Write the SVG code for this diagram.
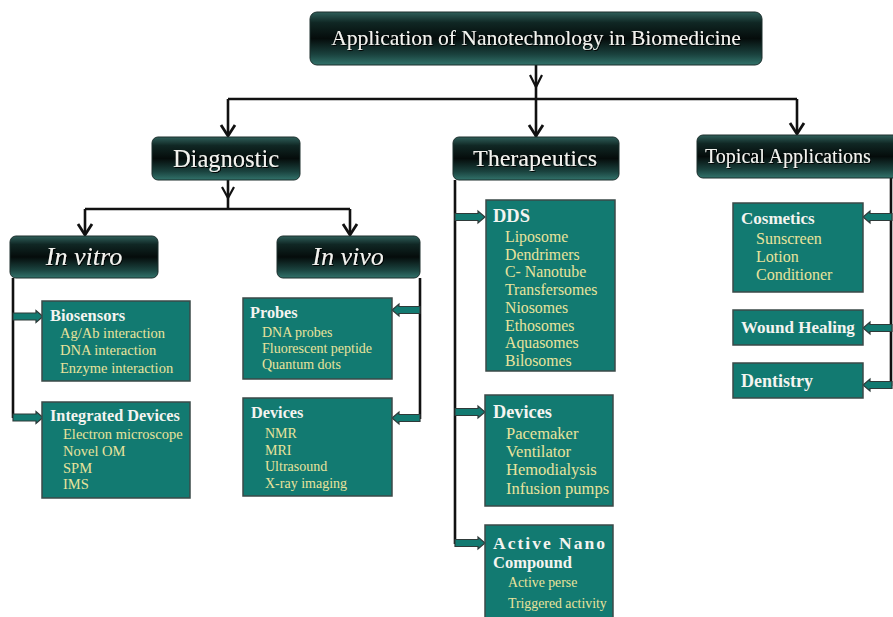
<svg xmlns="http://www.w3.org/2000/svg" width="893" height="617" viewBox="0 0 893 617">
  <defs>
    <linearGradient id="hdrGrad" x1="0" y1="0" x2="0" y2="1">
      <stop offset="0" stop-color="#2f5f5a"/>
      <stop offset="0.2" stop-color="#102724"/>
      <stop offset="0.5" stop-color="#050c0b"/>
      <stop offset="0.8" stop-color="#1a423e"/>
      <stop offset="1" stop-color="#32736b"/>
    </linearGradient>
    <filter id="txtShadow" x="-5%" y="-20%" width="110%" height="140%">
      <feDropShadow dx="1" dy="1" stdDeviation="0.6" flood-color="#000" flood-opacity="0.9"/>
    </filter>
  </defs>
  <style>
    .hdr { fill: url(#hdrGrad); stroke: #1c2f2d; stroke-width: 1; }
    .hdrText { fill: #f2f2ee; font-family: "Liberation Serif", "Times New Roman", serif; text-anchor: middle; filter: url(#txtShadow); }
    .box { fill: #127a71; stroke: #3b4a48; stroke-width: 1.5; }
    .title { fill: #f4f4f0; font-family: "Liberation Serif", "Times New Roman", serif; font-weight: bold; }
    .item { fill: #e9e39c; font-family: "Liberation Serif", "Times New Roman", serif; }
    .line { fill: none; stroke: #111; stroke-width: 2.6; stroke-linejoin: miter; }
    .chev { fill: none; stroke: #111; stroke-width: 2.2; stroke-linejoin: miter; }
    .tip { fill: none; stroke: #111; stroke-width: 2.8; }
    .barrow { fill: #127a71; stroke: #2e3a39; stroke-width: 1.2; stroke-linejoin: miter; }
  </style>

  <rect width="893" height="617" fill="#ffffff"/>

  <!-- connectors -->
  <g id="connectors">
    <!-- root to level 1 -->
    <path class="line" d="M536 65 V137"/>
    <path class="chev" d="M530 75 L536 87 L542 75"/>
    <path class="line" d="M228 99 H797"/>
    <path class="line" d="M228 99 V135"/>
    <path class="tip" d="M221 125 L228 136 L235 125"/>
    <path class="tip" d="M529 125 L536 136 L543 125"/>
    <path class="line" d="M797 99 V133"/>
    <path class="tip" d="M790 123 L797 134 L804 123"/>

    <!-- Diagnostic to In vitro / In vivo -->
    <path class="line" d="M228 180 V209"/>
    <path class="chev" d="M222 187 L228 198 L234 187"/>
    <path class="line" d="M85 209 H350"/>
    <path class="line" d="M85 209 V234"/>
    <path class="tip" d="M78 224 L85 235 L92 224"/>
    <path class="line" d="M350 209 V234"/>
    <path class="tip" d="M343 224 L350 235 L357 224"/>

    <!-- In vitro branch -->
    <path class="line" d="M13 278 V418"/>
    <path class="barrow" d="M13 313 H36 V310.5 L43 316.5 L36 322.5 V320 H13 Z"/>
    <path class="barrow" d="M13 414 H36 V411.5 L43 417.5 L36 423.5 V421 H13 Z"/>

    <!-- In vivo branch -->
    <path class="line" d="M420 278 V419"/>
    <path class="barrow" d="M420 306.5 H399 V304 L392 310 L399 316 V313.5 H420 Z"/>
    <path class="barrow" d="M420 414.5 H399 V412 L392 418 L399 424 V421.5 H420 Z"/>

    <!-- Therapeutics branch -->
    <path class="line" d="M455 180 V544"/>
    <path class="barrow" d="M455 213.5 H478 V211 L485 217 L478 223 V220.5 H455 Z"/>
    <path class="barrow" d="M455 408.5 H478 V406 L485 412 L478 418 V415.5 H455 Z"/>
    <path class="barrow" d="M455 539.5 H478 V537 L485 543 L478 549 V546.5 H455 Z"/>

    <!-- Topical branch -->
    <path class="line" d="M891 178 V386"/>
    <path class="barrow" d="M892 213.5 H870 V211 L863 217 L870 223 V220.5 H892 Z"/>
    <path class="barrow" d="M892 324.5 H870 V322 L863 328 L870 334 V331.5 H892 Z"/>
    <path class="barrow" d="M892 381.5 H870 V379 L863 385 L870 391 V388.5 H892 Z"/>
  </g>

  <!-- header nodes -->
  <g id="root">
    <rect class="hdr" x="310" y="12" width="452" height="53" rx="7"/>
    <text class="hdrText" x="536" y="45" font-size="21.5">Application of Nanotechnology in Biomedicine</text>
  </g>
  <g id="diagnostic">
    <rect class="hdr" x="152" y="137" width="148" height="43" rx="6"/>
    <text class="hdrText" x="226" y="167" font-size="24.5">Diagnostic</text>
  </g>
  <g id="therapeutics">
    <rect class="hdr" x="453" y="137" width="166" height="43" rx="6"/>
    <text class="hdrText" x="535" y="166" font-size="24">Therapeutics</text>
  </g>
  <g id="topical">
    <rect class="hdr" x="697" y="135" width="206" height="43" rx="6"/>
    <text class="hdrText" x="705" y="163" font-size="20" style="text-anchor:start">Topical Applications</text>
  </g>
  <g id="in-vitro">
    <rect class="hdr" x="10" y="236" width="148" height="42" rx="6"/>
    <text class="hdrText" x="84" y="265" font-size="26" font-style="italic">In vitro</text>
  </g>
  <g id="in-vivo">
    <rect class="hdr" x="277" y="236" width="143" height="42" rx="6"/>
    <text class="hdrText" x="348" y="265" font-size="26" font-style="italic">In vivo</text>
  </g>

  <!-- In vitro leaves -->
  <g id="biosensors">
    <rect class="box" x="42" y="301" width="148" height="80"/>
    <text class="title" x="50" y="321" font-size="16.5">Biosensors</text>
    <text class="item" font-size="14.5">
      <tspan x="60" y="338">Ag/Ab interaction</tspan>
      <tspan x="60" y="355">DNA interaction</tspan>
      <tspan x="60" y="373">Enzyme interaction</tspan>
    </text>
  </g>
  <g id="integrated-devices">
    <rect class="box" x="42" y="402" width="148" height="96"/>
    <text class="title" x="50" y="421" font-size="16.3">Integrated Devices</text>
    <text class="item" font-size="14.5">
      <tspan x="63" y="439">Electron microscope</tspan>
      <tspan x="63" y="456">Novel OM</tspan>
      <tspan x="63" y="473">SPM</tspan>
      <tspan x="63" y="489">IMS</tspan>
    </text>
  </g>

  <!-- In vivo leaves -->
  <g id="probes">
    <rect class="box" x="243" y="298" width="149" height="81"/>
    <text class="title" x="250" y="318" font-size="16.3">Probes</text>
    <text class="item" font-size="14">
      <tspan x="262" y="337">DNA probes</tspan>
      <tspan x="262" y="353">Fluorescent peptide</tspan>
      <tspan x="262" y="369">Quantum dots</tspan>
    </text>
  </g>
  <g id="vivo-devices">
    <rect class="box" x="243" y="398" width="149" height="98"/>
    <text class="title" x="251" y="418" font-size="16.3">Devices</text>
    <text class="item" font-size="14">
      <tspan x="265" y="438">NMR</tspan>
      <tspan x="265" y="455">MRI</tspan>
      <tspan x="265" y="471">Ultrasound</tspan>
      <tspan x="265" y="488">X-ray imaging</tspan>
    </text>
  </g>

  <!-- Therapeutics leaves -->
  <g id="dds">
    <rect class="box" x="486" y="200" width="129" height="171"/>
    <text class="title" x="493" y="222" font-size="18.5">DDS</text>
    <text class="item" font-size="15.8">
      <tspan x="505" y="242">Liposome</tspan>
      <tspan x="505" y="260">Dendrimers</tspan>
      <tspan x="505" y="277">C- Nanotube</tspan>
      <tspan x="505" y="295">Transfersomes</tspan>
      <tspan x="505" y="313">Niosomes</tspan>
      <tspan x="505" y="331">Ethosomes</tspan>
      <tspan x="505" y="348">Aquasomes</tspan>
      <tspan x="505" y="366">Bilosomes</tspan>
    </text>
  </g>
  <g id="therapy-devices">
    <rect class="box" x="485" y="395" width="128" height="111"/>
    <text class="title" x="493" y="418" font-size="18.3">Devices</text>
    <text class="item" font-size="16.5">
      <tspan x="506" y="439">Pacemaker</tspan>
      <tspan x="506" y="457">Ventilator</tspan>
      <tspan x="506" y="475">Hemodialysis</tspan>
      <tspan x="506" y="494">Infusion pumps</tspan>
    </text>
  </g>
  <g id="active-nano">
    <rect class="box" x="485" y="525" width="128" height="100"/>
    <text class="title" x="493" y="549" font-size="17.5" textLength="112" lengthAdjust="spacing">Active Nano</text>
    <text class="title" x="493" y="568" font-size="16.5">Compound</text>
    <text class="item" font-size="13.8">
      <tspan x="508" y="587">Active perse</tspan>
      <tspan x="508" y="608">Triggered activity</tspan>
    </text>
  </g>

  <!-- Topical leaves -->
  <g id="cosmetics">
    <rect class="box" x="733" y="203" width="130" height="89"/>
    <text class="title" x="741" y="224" font-size="17">Cosmetics</text>
    <text class="item" font-size="16">
      <tspan x="756" y="244">Sunscreen</tspan>
      <tspan x="756" y="262">Lotion</tspan>
      <tspan x="756" y="280">Conditioner</tspan>
    </text>
  </g>
  <g id="wound-healing">
    <rect class="box" x="733" y="310" width="130" height="35"/>
    <text class="title" x="741" y="333" font-size="17">Wound Healing</text>
  </g>
  <g id="dentistry">
    <rect class="box" x="733" y="363" width="130" height="35"/>
    <text class="title" x="741" y="387" font-size="18">Dentistry</text>
  </g>
</svg>
